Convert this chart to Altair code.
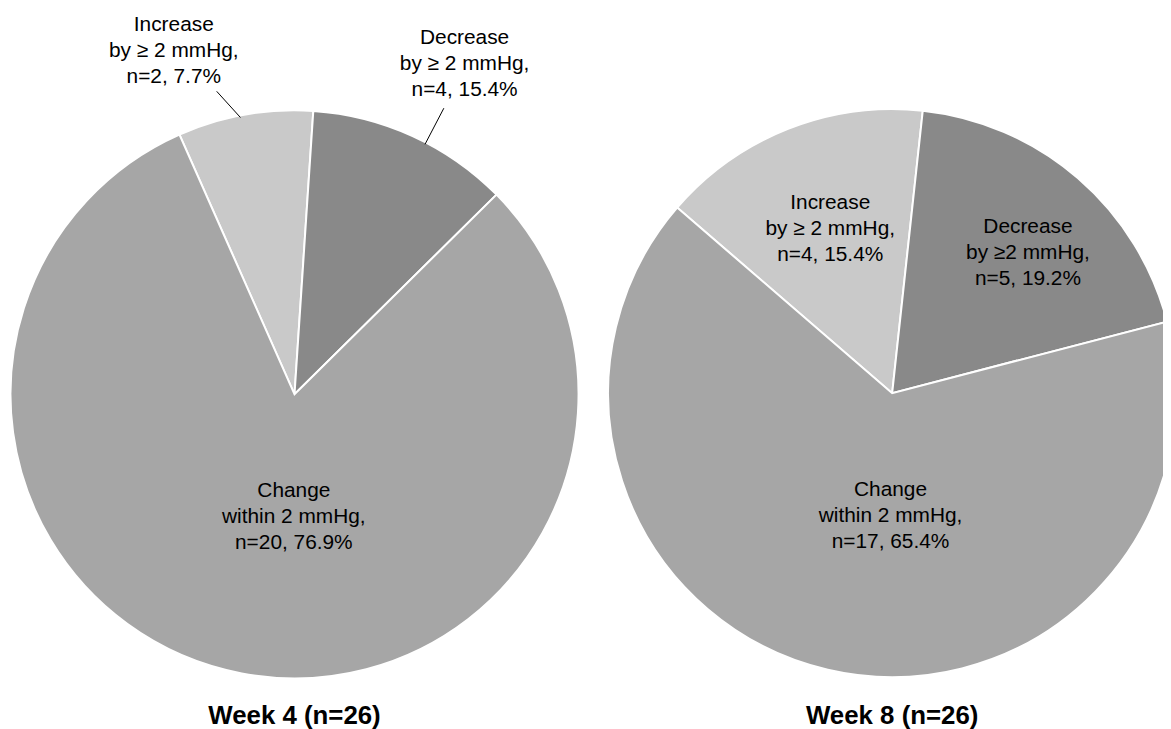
import math
import altair as alt
import pandas as pd

# ---------------- data ----------------
categories = ["Increase", "Decrease", "Change"]
orders = [1, 2, 3]
# slice sizes as drawn in the picture (left pie's drawn decrease slice spans ~11.5%)
week4_n = [2, 3, 21]
week8_n = [4, 5, 17]
week4_labels = [
    "Increase\nby \u2265 2 mmHg,\nn=2, 7.7%",
    "Decrease\nby \u2265 2 mmHg,\nn=4, 15.4%",
    "Change\nwithin 2 mmHg,\nn=20, 76.9%",
]
week8_labels = [
    "Increase\nby \u2265 2 mmHg,\nn=4, 15.4%",
    "Decrease\nby \u22652 mmHg,\nn=5, 19.2%",
    "Change\nwithin 2 mmHg,\nn=17, 65.4%",
]
titles = ["Week 4 (n=26)", "Week 8 (n=26)"]
colors = ["#c9c9c9", "#898989", "#a6a6a6"]

FONT = "Liberation Sans"
OFF = 8
LINE = 26  # first line is anchored at y; shift the block up by one line

rows = []
for pie, ns, labs in (("w4", week4_n, week4_labels), ("w8", week8_n, week8_labels)):
    for c, o, n, l in zip(categories, orders, ns, labs):
        rows.append({"pie": pie, "category": c, "order": o, "n": n, "label": l})
df = pd.DataFrame(rows)

color_scale = alt.Scale(domain=categories, range=colors)


def pie_layer(pie, total, start_deg, cx, cy, radius, text_specs, leader_specs, title):
    a0 = math.radians(start_deg)
    sc = alt.Scale(domain=[0, total], range=[a0, a0 + 2 * math.pi])
    base = (
        alt.Chart(df)
        .transform_filter(alt.datum.pie == pie)
        .transform_window(cum="sum(n)", sort=[alt.SortField("order")], frame=[None, 0])
        .transform_calculate(lo="datum.cum - datum.n", mid="datum.cum - datum.n / 2")
    )
    layers = [
        base.mark_arc(radius=radius, stroke="white", strokeWidth=2).encode(
            theta=alt.Theta("lo:Q", scale=sc, stack=None),
            theta2="cum:Q",
            color=alt.Color("category:N", scale=color_scale, legend=None),
            order=alt.Order("order:Q"),
            x=alt.value(cx),
            y=alt.value(cy),
        )
    ]
    for cat, (r, dx, dy) in text_specs.items():
        layers.append(
            base.transform_filter(alt.datum.category == cat)
            .mark_text(
                radius=r, dx=dx, dy=dy - 25, font=FONT, fontSize=21, lineBreak="\n",
                lineHeight=LINE, align="center", baseline="middle", color="#000000",
            )
            .encode(
                theta=alt.Theta("mid:Q", scale=sc, stack=None),
                text="label:N",
                x=alt.value(cx),
                y=alt.value(cy),
            )
        )
    for cat, (d1, r1, d2, r2) in leader_specs.items():
        ang = f"({a0} + 2 * PI * datum.mid / {total})"
        layers.append(
            base.transform_filter(alt.datum.category == cat)
            .transform_calculate(
                lx1=f"{cx} + {r1} * sin({ang} + {math.radians(d1)})",
                ly1=f"{cy} - {r1} * cos({ang} + {math.radians(d1)})",
                lx2=f"{cx} + {r2} * sin({ang} + {math.radians(d2)})",
                ly2=f"{cy} - {r2} * cos({ang} + {math.radians(d2)})",
            )
            .mark_rule(color="#000000", strokeWidth=1)
            .encode(
                x=alt.X("lx1:Q", scale=None),
                y=alt.Y("ly1:Q", scale=None),
                x2="lx2:Q",
                y2="ly2:Q",
            )
        )
    layers.append(
        alt.Chart(pd.DataFrame({"t": [title]}))
        .mark_text(font=FONT, fontSize=26, fontWeight="bold", align="center",
                   baseline="middle", color="#000000")
        .encode(text="t:N", x=alt.value(cx), y=alt.value(718 - OFF))
    )
    return alt.layer(*layers)


left = pie_layer(
    "w4", sum(week4_n), -23.9, 296.5 - OFF, 394.5 - OFF, 286,
    {"Increase": (367, -57.5, 15), "Decrease": (375, 15.4, 7.4), "Change": (122, 22, 2.6)},
    {"Increase": (-1.0, 284, -4.35, 315), "Decrease": (3.0, 284, 3.0, 325)},
    titles[0],
)
right = pie_layer(
    "w8", sum(week8_n), -49.2, 898.3 - OFF, 393.3 - OFF, 286,
    {"Increase": (178, 2.9, -0.7), "Decrease": (197, 8, 7), "Change": (122, 26, 4)},
    {},
    titles[1],
)

chart = (
    alt.layer(left, right)
    .resolve_scale(theta="independent")
    .properties(width=1163, height=721, autosize=alt.AutoSizeParams(type="none"), padding=0)
    .configure_view(stroke=None)
)

chart.save("out.html", embed_options={"renderer": "svg", "actions": False})
